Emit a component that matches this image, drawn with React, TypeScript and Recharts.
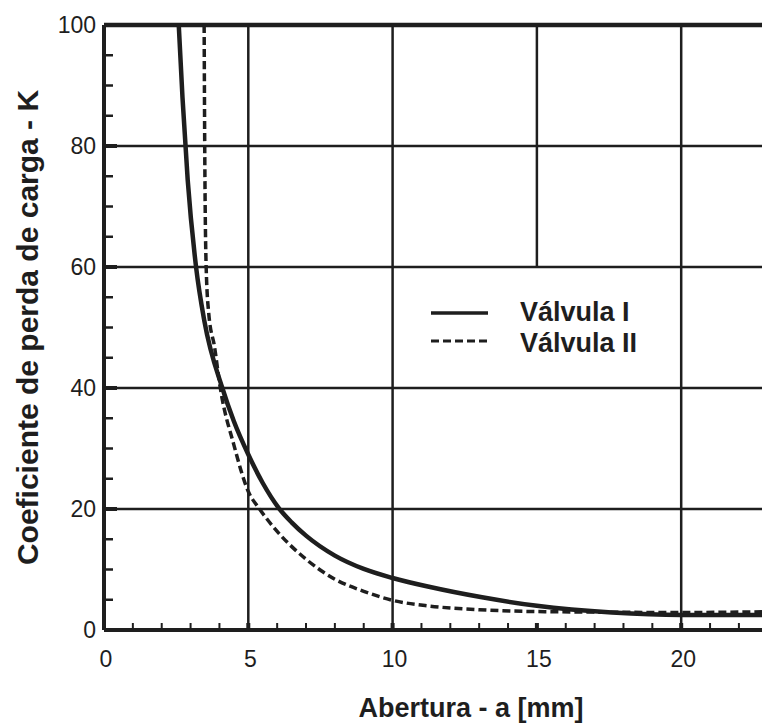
import React from "react";
import { LineChart, Line, XAxis, YAxis, ReferenceLine, Legend } from "recharts";

// Válvula I (solid)
const SOLID_X = [2.59, 2.72, 2.9, 3.19, 3.48, 4.1, 4.5, 5, 5.5, 6.05, 6.5, 7, 8, 9, 10, 11.3, 13.1, 15, 17.6, 20, 22.8];
const SOLID_K = [100, 88, 74.4, 60, 51, 40, 34.5, 29, 24.3, 20.2, 17.8, 15.6, 12.3, 10.1, 8.6, 7.1, 5.4, 4.0, 2.9, 2.5, 2.5];

// Válvula II (dashed)
const DASHED_X = [3.47, 3.49, 3.54, 3.63, 3.83, 4.03, 4.5, 5, 5.39, 6, 7, 8, 9, 10, 11.3, 13, 15, 20, 22.8];
const DASHED_K = [100, 80, 60, 52.3, 46.8, 40, 30.6, 22.9, 20, 16.3, 11.7, 8.4, 6.4, 4.9, 3.95, 3.35, 3.05, 2.9, 3.0];

const X_LABELS = [0, 5, 10, 15, 20];
const X_MINOR = [1, 2, 3, 4, 6, 7, 8, 9, 11, 12, 13, 14, 16, 17, 18, 19, 21, 22];
const Y_LABELS = [0, 20, 40, 60, 80, 100];
const Y_MINOR = [5, 10, 15, 25, 30, 35, 45, 50, 55, 65, 70, 75, 85, 90, 95];

const GRID_X = [5, 10, 20];
const GRID_Y = [20, 40, 60, 80];

const SERIES_NAMES = ["Válvula I", "Válvula II"];

const INK = "#1e1e1e";
const FONT = "'Liberation Sans', Arial, Helvetica, sans-serif";
const X_MARGIN = 10;
const Y_MARGIN = 8;

const solidData = SOLID_X.map((x, i) => ({ x, k: SOLID_K[i] }));
const dashedData = DASHED_X.map((x, i) => ({ x, k: DASHED_K[i] }));
const xTicks = [...X_LABELS, ...X_MINOR].sort((a, b) => a - b);
const yTicks = [...Y_LABELS, ...Y_MINOR].sort((a, b) => a - b);

const XTick = ({ x, y, payload }: any) => {
  const v = payload.value;
  const major = X_LABELS.includes(v);
  const axisY = y - X_MARGIN;
  return (
    <g>
      {v !== 0 && (
        <line x1={x} x2={x} y1={axisY} y2={axisY - 7} stroke={INK} strokeWidth={major ? 4 : 2} />
      )}
      {major && (
        <text x={x + 2} y={axisY + 37} textAnchor="middle" fontSize={23} fill={INK} fontFamily={FONT}>
          {v}
        </text>
      )}
    </g>
  );
};

const YTick = ({ x, y, payload }: any) => {
  const v = payload.value;
  const major = Y_LABELS.includes(v);
  const axisX = x + Y_MARGIN;
  return (
    <g>
      {v !== 0 && v !== 100 && (
        <line x1={axisX} x2={axisX + (major ? 13 : 9)} y1={y} y2={y} stroke={INK} strokeWidth={major ? 4 : 2.5} />
      )}
      {major && (
        <text x={x} y={y + 8} textAnchor="end" fontSize={23} fill={INK} fontFamily={FONT}>
          {v}
        </text>
      )}
    </g>
  );
};

const LegendBox = () => (
  <svg width={280} height={72}>
    <line x1={6} x2={63} y1={23} y2={23} stroke={INK} strokeWidth={3.5} />
    <line x1={6} x2={63} y1={51} y2={51} stroke={INK} strokeWidth={3} strokeDasharray="8 4" />
    <text x={95} y={31} fontSize={27} fontWeight="bold" fill={INK} fontFamily={FONT}>
      {SERIES_NAMES[0]}
    </text>
    <text x={95} y={62} fontSize={27} fontWeight="bold" fill={INK} fontFamily={FONT}>
      {SERIES_NAMES[1]}
    </text>
  </svg>
);

export default function App() {
  return (
    <div style={{ position: "absolute", left: 0, top: 0, background: "#fff" }}>
      <LineChart width={762} height={725} margin={{ top: 25, right: 0, bottom: 0, left: 0 }}>
        <XAxis
          type="number"
          dataKey="x"
          domain={[0, 22.8]}
          allowDataOverflow
          ticks={xTicks}
          interval={0}
          height={95}
          tickSize={0}
          tickMargin={X_MARGIN}
          tick={<XTick />}
          axisLine={{ stroke: INK, strokeWidth: 4 }}
          label={({ viewBox }: any) => (
            <text
              x={viewBox.x + viewBox.width / 2 + 38}
              y={717}
              textAnchor="middle"
              fontSize={27}
              fontWeight="bold"
              fill={INK}
              fontFamily={FONT}
            >
              Abertura - a [mm]
            </text>
          )}
        />
        <YAxis
          type="number"
          dataKey="k"
          domain={[0, 100]}
          allowDataOverflow
          ticks={yTicks}
          interval={0}
          width={104}
          tickSize={0}
          tickMargin={Y_MARGIN}
          tick={<YTick />}
          axisLine={{ stroke: INK, strokeWidth: 4 }}
          label={({ viewBox }: any) => {
            const cy = viewBox.y + viewBox.height / 2;
            return (
              <text
                x={27}
                y={cy}
                transform={`rotate(-90, 27, ${cy})`}
                textAnchor="middle"
                dominantBaseline="central"
                fontSize={30}
                fontWeight="bold"
                fill={INK}
                fontFamily={FONT}
              >
                Coeficiente de perda de carga - K
              </text>
            );
          }}
        />
        {GRID_Y.map((v) => (
          <ReferenceLine key={"gy" + v} y={v} stroke={INK} strokeWidth={2.5} />
        ))}
        {GRID_X.map((v) => (
          <ReferenceLine key={"gx" + v} x={v} stroke={INK} strokeWidth={2.5} />
        ))}
        <ReferenceLine
          segment={[{ x: 15, y: 60 }, { x: 15, y: 100 }]}
          stroke={INK}
          strokeWidth={2.5}
        />
        <ReferenceLine y={100} stroke={INK} strokeWidth={4.5} />
        <Line
          data={solidData}
          dataKey="k"
          name={SERIES_NAMES[0]}
          type="monotone"
          stroke={INK}
          strokeWidth={4.5}
          dot={false}
          isAnimationActive={false}
        />
        <Line
          data={dashedData}
          dataKey="k"
          name={SERIES_NAMES[1]}
          type="monotone"
          stroke={INK}
          strokeWidth={3.5}
          strokeDasharray="8 4"
          dot={false}
          isAnimationActive={false}
        />
        <Legend
          layout="vertical"
          align="center"
          verticalAlign="middle"
          content={<LegendBox />}
          wrapperStyle={{ left: 425, top: 290, width: 280, height: 72 }}
        />
      </LineChart>
    </div>
  );
}
